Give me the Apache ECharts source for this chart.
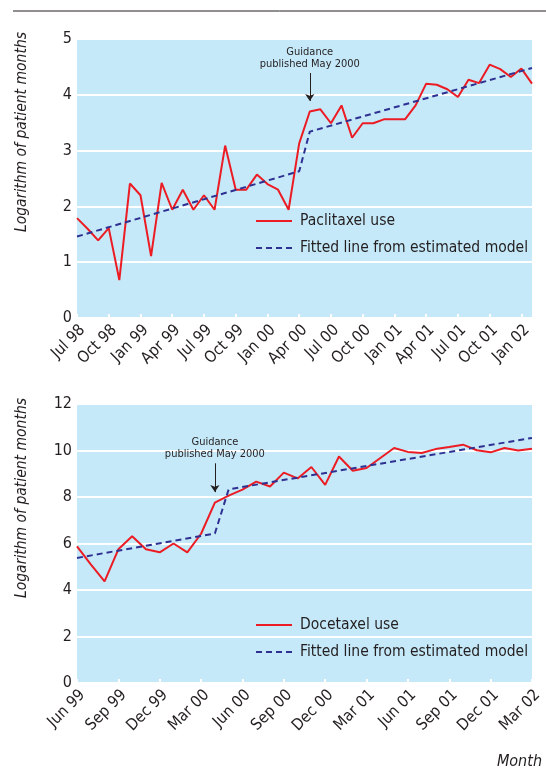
<!DOCTYPE html>
<html>
<head>
<meta charset="utf-8">
<script src="https://cdn.jsdelivr.net/npm/echarts@6/dist/echarts.min.js"></script>
<style>
  html, body { margin: 0; padding: 0; background: #ffffff; }
  #chart { width: 546px; height: 769px; }
</style>
</head>
<body>
<div id="chart"></div>
<script>
// top panel: paclitaxel, Jul 98 - Feb 02
const paclitaxelMonths = [
  'Jul 98', 'Aug 98', 'Sep 98', 'Oct 98', 'Nov 98', 'Dec 98',
  'Jan 99', 'Feb 99', 'Mar 99', 'Apr 99', 'May 99', 'Jun 99', 'Jul 99', 'Aug 99', 'Sep 99', 'Oct 99', 'Nov 99', 'Dec 99',
  'Jan 00', 'Feb 00', 'Mar 00', 'Apr 00', 'May 00', 'Jun 00', 'Jul 00', 'Aug 00', 'Sep 00', 'Oct 00', 'Nov 00', 'Dec 00',
  'Jan 01', 'Feb 01', 'Mar 01', 'Apr 01', 'May 01', 'Jun 01', 'Jul 01', 'Aug 01', 'Sep 01', 'Oct 01', 'Nov 01', 'Dec 01',
  'Jan 02', 'Feb 02'
];
const paclitaxelUse = [
  1.79, 1.60, 1.39, 1.61, 0.68, 2.41,
  2.20, 1.11, 2.42, 1.94, 2.30, 1.94, 2.20, 1.94, 3.09, 2.30, 2.30, 2.57,
  2.40, 2.30, 1.94, 3.13, 3.70, 3.74, 3.49, 3.81, 3.23, 3.49, 3.49, 3.56,
  3.56, 3.56, 3.81, 4.20, 4.18, 4.10, 3.96, 4.27, 4.21, 4.54, 4.46, 4.32,
  4.47, 4.20
];
// fitted segmented line: [month index, value] at its break points
const paclitaxelFitted = [[0, 1.46], [21, 2.63], [22, 3.34], [43, 4.48]];

// bottom panel: docetaxel, Jun 99 - Mar 02
const docetaxelMonths = [
  'Jun 99', 'Jul 99', 'Aug 99', 'Sep 99', 'Oct 99', 'Nov 99', 'Dec 99',
  'Jan 00', 'Feb 00', 'Mar 00', 'Apr 00', 'May 00', 'Jun 00', 'Jul 00', 'Aug 00', 'Sep 00', 'Oct 00', 'Nov 00', 'Dec 00',
  'Jan 01', 'Feb 01', 'Mar 01', 'Apr 01', 'May 01', 'Jun 01', 'Jul 01', 'Aug 01', 'Sep 01', 'Oct 01', 'Nov 01', 'Dec 01',
  'Jan 02', 'Feb 02', 'Mar 02'
];
const docetaxelUse = [
  5.88, 5.10, 4.37, 5.75, 6.31, 5.75, 5.62,
  6.00, 5.62, 6.42, 7.76, 8.06, 8.32, 8.66, 8.45, 9.05, 8.80, 9.29, 8.52,
  9.74, 9.13, 9.25, 9.68, 10.11, 9.94, 9.89, 10.06, 10.15, 10.25, 10.01, 9.92,
  10.11, 10.00, 10.08
];
const docetaxelFitted = [[0, 5.38], [10, 6.43], [11, 8.33], [33, 10.54]];

// guidance arrows: [month index, arrow start, arrow tip]
const paclitaxelGuidance = [22, 4.39, 3.89];
const docetaxelGuidance = [10, 9.45, 8.21];

const FONT = '"Liberation Sans Narrow", "DejaVu Sans Condensed", sans-serif';
const INK = '#231f20';
const RED = '#ec1c24';
const NAVY = '#2e3192';
const FIT_NAME = 'Fitted line from estimated model';

function guidanceLine(g) {
  return {
    silent: true,
    symbol: ['none', 'arrow'],
    symbolSize: 7,
    lineStyle: { type: 'solid', color: INK, width: 1 },
    label: {
      show: true,
      position: 'start',
      distance: 3,
      formatter: 'Guidance\npublished May 2000',
      fontFamily: FONT,
      fontSize: 11,
      lineHeight: 12,
      color: INK
    },
    emphasis: { disabled: true },
    data: [[{ coord: [g[0], g[1]] }, { coord: [g[0], g[2]] }]]
  };
}

function xAxisFor(idx, months) {
  return {
    type: 'category',
    gridIndex: idx,
    data: months,
    boundaryGap: false,
    axisLine: { show: false },
    axisTick: { show: true, inside: true, length: 4, interval: 2, lineStyle: { color: '#ffffff', width: 2 } },
    axisLabel: { interval: 2, rotate: 45, margin: 4, verticalAlign: 'top', fontFamily: FONT, fontSize: 16, color: INK },
    splitLine: { show: false }
  };
}

function yAxisFor(idx, max, step) {
  return {
    type: 'value',
    gridIndex: idx,
    min: 0,
    max: max,
    interval: step,
    axisLine: { show: false },
    axisTick: { show: false },
    axisLabel: { margin: 5, fontFamily: FONT, fontSize: 16, color: INK },
    splitLine: { lineStyle: { color: '#ffffff', width: 2 } }
  };
}

function legendFor(top, first) {
  return {
    orient: 'vertical',
    left: 250,
    top: top,
    itemWidth: 36,
    itemHeight: 14,
    itemGap: 7,
    selectedMode: false,
    itemStyle: { opacity: 0 },
    textStyle: { fontFamily: FONT, fontSize: 15.5, lineHeight: 20, color: INK, padding: [0, 0, 0, 3] },
    data: [first, FIT_NAME]
  };
}

function axisName(y) {
  return {
    type: 'text', x: 22, y: y, rotation: Math.PI / 2,
    style: {
      text: 'Logarithm of patient months', fontFamily: FONT, fontStyle: 'italic',
      fontSize: 15.5, fill: INK, align: 'center', verticalAlign: 'middle'
    }
  };
}

const chart = echarts.init(document.getElementById('chart'), null, { renderer: 'canvas' });

const option = {
  animation: false,
  backgroundColor: '#ffffff',
  grid: [
    { left: 77, top: 39, width: 455, height: 279, show: true, backgroundColor: '#c6e9f9', borderWidth: 0 },
    { left: 77, top: 404, width: 455, height: 279, show: true, backgroundColor: '#c6e9f9', borderWidth: 0 }
  ],
  xAxis: [xAxisFor(0, paclitaxelMonths), xAxisFor(1, docetaxelMonths)],
  yAxis: [yAxisFor(0, 5, 1), yAxisFor(1, 12, 2)],
  legend: [legendFor(206, 'Paclitaxel use'), legendFor(610, 'Docetaxel use')],
  graphic: [
    { type: 'line', shape: { x1: 13, y1: 11, x2: 546, y2: 11 }, style: { stroke: INK, lineWidth: 1 } },
    axisName(132),
    axisName(498),
    {
      type: 'text', x: 542, y: 762,
      style: { text: 'Month', fontFamily: FONT, fontStyle: 'italic', fontSize: 16, fill: INK, align: 'right', verticalAlign: 'middle' }
    }
  ],
  series: [
    {
      name: 'Paclitaxel use', type: 'line', xAxisIndex: 0, yAxisIndex: 0,
      data: paclitaxelUse, symbol: 'none',
      lineStyle: { color: RED, width: 2 }, itemStyle: { color: RED }
    },
    {
      name: FIT_NAME, type: 'line', xAxisIndex: 0, yAxisIndex: 0,
      data: paclitaxelFitted, symbol: 'none',
      lineStyle: { color: NAVY, width: 2, type: [6, 4] }, itemStyle: { color: NAVY },
      markLine: guidanceLine(paclitaxelGuidance)
    },
    {
      name: 'Docetaxel use', type: 'line', xAxisIndex: 1, yAxisIndex: 1,
      data: docetaxelUse, symbol: 'none',
      lineStyle: { color: RED, width: 2 }, itemStyle: { color: RED }
    },
    {
      name: FIT_NAME, type: 'line', xAxisIndex: 1, yAxisIndex: 1,
      data: docetaxelFitted, symbol: 'none',
      lineStyle: { color: NAVY, width: 2, type: [6, 4] }, itemStyle: { color: NAVY },
      markLine: guidanceLine(docetaxelGuidance)
    }
  ]
};

chart.setOption(option);
</script>
</body>
</html>
